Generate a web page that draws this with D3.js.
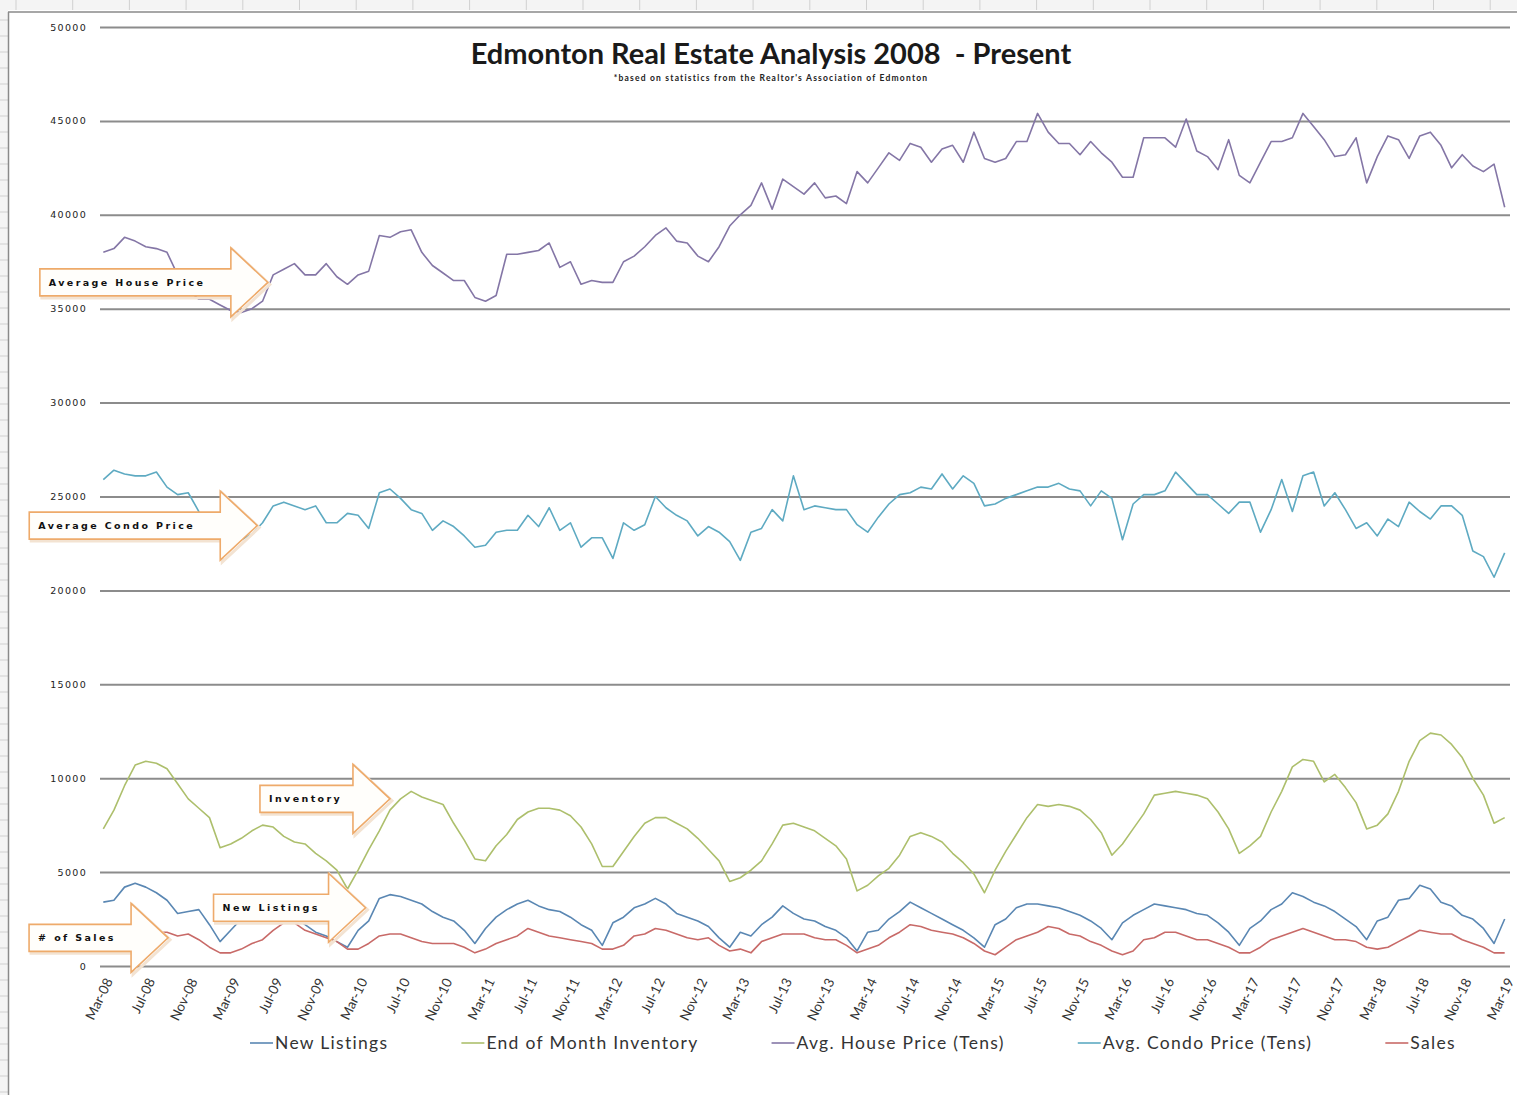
<!DOCTYPE html>
<html>
<head>
<meta charset="utf-8">
<script src="https://cdn.jsdelivr.net/npm/d3@7"></script>
<style>
  body { margin: 0; background: #fff; }
  svg { display: block; }
</style>
</head>
<body>
<script>
// monthly data, Mar-08 .. Mar-19 (133 months)
var tickLabels = ["Mar-08","Jul-08","Nov-08","Mar-09","Jul-09","Nov-09","Mar-10","Jul-10","Nov-10",
  "Mar-11","Jul-11","Nov-11","Mar-12","Jul-12","Nov-12","Mar-13","Jul-13","Nov-13","Mar-14","Jul-14",
  "Nov-14","Mar-15","Jul-15","Nov-15","Mar-16","Jul-16","Nov-16","Mar-17","Jul-17","Nov-17","Mar-18",
  "Jul-18","Nov-18","Mar-19"];

var yTicks = [0, 5000, 10000, 15000, 20000, 25000, 30000, 35000, 40000, 45000, 50000];

var newListings = [
  3400,3500,4200,4400,4200,3900,3500,2800,2900,3000,
  2200,1300,1900,2500,3000,3300,3300,3000,2600,2200,
  1800,1600,1300,1000,1900,2400,3600,3800,3700,3500,
  3300,2900,2600,2400,1900,1200,2000,2600,3000,3300,
  3500,3200,3000,2900,2600,2200,1900,1100,2300,2600,
  3100,3300,3600,3300,2800,2600,2400,2100,1500,1000,
  1800,1600,2200,2600,3200,2800,2500,2400,2100,1900,
  1500,800,1800,1900,2500,2900,3400,3100,2800,2500,
  2200,1900,1500,1000,2200,2500,3100,3300,3300,3200,
  3100,2900,2700,2400,2000,1400,2300,2700,3000,3300,
  3200,3100,3000,2800,2700,2300,1800,1100,2000,2400,
  3000,3300,3900,3700,3400,3200,2900,2500,2100,1400,
  2400,2600,3500,3600,4300,4100,3400,3200,2700,2500,
  2000,1200,2500];

var inventory = [
  7300,8300,9600,10700,10900,10800,10500,9700,8900,8400,
  7900,6300,6500,6800,7200,7500,7400,6900,6600,6500,
  6000,5600,5100,4100,5100,6200,7200,8300,8900,9300,
  9000,8800,8600,7600,6700,5700,5600,6400,7000,7800,
  8200,8400,8400,8300,8000,7400,6500,5300,5300,6100,
  6900,7600,7900,7900,7600,7300,6800,6200,5600,4500,
  4700,5100,5600,6500,7500,7600,7400,7200,6800,6400,
  5700,4000,4300,4800,5200,5900,6900,7100,6900,6600,
  6000,5500,4900,3900,5100,6100,7000,7900,8600,8500,
  8600,8500,8300,7800,7100,5900,6500,7300,8100,9100,
  9200,9300,9200,9100,8900,8200,7300,6000,6400,6900,
  8200,9300,10600,11000,10900,9800,10200,9500,8700,7300,
  7500,8100,9300,10900,12000,12400,12300,11800,11100,10000,
  9100,7600,7900];

var housePrice = [
  38000,38200,38800,38600,38300,38200,38000,36800,36000,35500,
  35500,35200,34900,34800,35000,35400,36800,37100,37400,36800,
  36800,37400,36700,36300,36800,37000,38900,38800,39100,39200,
  38000,37300,36900,36500,36500,35600,35400,35700,37900,37900,
  38000,38100,38500,37200,37500,36300,36500,36400,36400,37500,
  37800,38300,38900,39300,38600,38500,37800,37500,38300,39400,
  40000,40500,41700,40300,41900,41500,41100,41700,40900,41000,
  40600,42300,41700,42500,43300,42900,43800,43600,42800,43500,
  43700,42800,44400,43000,42800,43000,43900,43900,45400,44400,
  43800,43800,43200,43900,43300,42800,42000,42000,44100,44100,
  44100,43600,45100,43400,43100,42400,44000,42100,41700,42800,
  43900,43900,44100,45400,44700,44000,43100,43200,44100,41700,
  43100,44200,44000,43000,44200,44400,43700,42500,43200,42600,
  42300,42700,40400];

var condoPrice = [
  25900,26400,26200,26100,26100,26300,25500,25100,25200,24200,
  23200,22800,22500,22700,23000,23600,24500,24700,24500,24300,
  24500,23600,23600,24100,24000,23300,25200,25400,24900,24300,
  24100,23200,23700,23400,22900,22300,22400,23100,23200,23200,
  24000,23400,24400,23200,23600,22300,22800,22800,21700,23600,
  23200,23500,25000,24400,24000,23700,22900,23400,23100,22600,
  21600,23100,23300,24300,23700,26100,24300,24500,24400,24300,
  24300,23500,23100,23900,24600,25100,25200,25500,25400,26200,
  25400,26100,25700,24500,24600,24900,25100,25300,25500,25500,
  25700,25400,25300,24500,25300,24900,22700,24600,25100,25100,
  25300,26300,25700,25100,25100,24600,24100,24700,24700,23100,
  24300,25900,24200,26100,26300,24500,25200,24300,23300,23600,
  22900,23800,23400,24700,24200,23800,24500,24500,24000,22100,
  21800,20700,22000];

var sales = [
  1500,1700,1800,1800,1700,1800,1800,1600,1700,1400,
  1000,700,700,900,1200,1400,1900,2300,2300,1900,
  1700,1500,1300,900,900,1200,1600,1700,1700,1500,
  1300,1200,1200,1200,1000,700,900,1200,1400,1600,
  2000,1800,1600,1500,1400,1300,1200,900,900,1100,
  1600,1700,2000,1900,1700,1500,1400,1500,1100,800,
  900,700,1300,1500,1700,1700,1700,1500,1400,1400,
  1100,700,900,1100,1500,1800,2200,2100,1900,1800,
  1700,1500,1200,800,600,1000,1400,1600,1800,2100,
  2000,1700,1600,1300,1100,800,600,800,1400,1500,
  1800,1800,1600,1400,1400,1200,1000,700,700,1000,
  1400,1600,1800,2000,1800,1600,1400,1400,1300,1000,
  900,1000,1300,1600,1900,1800,1700,1700,1400,1200,
  1000,700,700];

var seriesNames = ["New Listings", "End of Month Inventory", "Avg. House Price (Tens)", "Avg. Condo Price (Tens)", "Sales"];
var seriesColors = ["#5a87b3", "#adbf6c", "#8476a6", "#5eaac2", "#c86a68"];

// arrow callouts: label, tip month index, tip value
var calloutLabels = ["Average House Price", "Average Condo Price", "Inventory", "New Listings", "# of Sales"];
var calloutIndex = [15.5, 14.5, 27.0, 24.7, 6.1];
var calloutValue = [36400, 23450, 8900, 3100, 1500];
var calloutLength = [228, 228, 130, 152, 139];

var width = 1517, height = 1095;

var svg = d3.select("body").append("svg")
    .attr("width", width)
    .attr("height", height);

// spreadsheet frame around the chart
var frame = svg.append("g");
frame.append("rect").attr("x", 0).attr("y", 0).attr("width", width).attr("height", 10).attr("fill", "#f4f4f4");
frame.append("rect").attr("x", 0).attr("y", 0).attr("width", 8).attr("height", height).attr("fill", "#f4f4f4");
frame.selectAll(".col").data(d3.range(16, width, 56.7)).enter().append("line")
    .attr("x1", function(d) { return d; }).attr("x2", function(d) { return d; })
    .attr("y1", 0).attr("y2", 10).attr("stroke", "#d0d0d0");
frame.selectAll(".row").data(d3.range(20, height, 16)).enter().append("line")
    .attr("x1", 0).attr("x2", 8)
    .attr("y1", function(d) { return d; }).attr("y2", function(d) { return d; })
    .attr("stroke", "#d0d0d0");
frame.append("line").attr("x1", 8).attr("x2", width).attr("y1", 12).attr("y2", 12).attr("stroke", "#8a8a8a").attr("stroke-width", 1.5);
frame.append("line").attr("x1", 8.5).attr("x2", 8.5).attr("y1", 12).attr("y2", height).attr("stroke", "#8a8a8a").attr("stroke-width", 1.5);

// scales
var x = d3.scaleLinear().domain([-0.5, 132.5]).range([98, 1510]);
var y = d3.scaleLinear().domain([0, 50000]).range([966, 27]);

// y axis + gridlines
var yAxis = d3.axisLeft(y)
    .tickValues(yTicks)
    .tickSize(-1410)
    .tickPadding(13)
    .tickFormat(d3.format("d"));

var gy = svg.append("g")
    .attr("class", "y axis")
    .attr("transform", "translate(100,0)")
    .call(yAxis);
gy.select(".domain").remove();
gy.selectAll("line").attr("stroke", "#8c8c8c").attr("stroke-width", 2);
gy.selectAll("text")
    .style("font-family", "'DejaVu Sans', sans-serif")
    .style("font-size", "9.5px")
    .style("letter-spacing", "1.3px")
    .attr("fill", "#222");

// x axis
var xAxis = d3.axisBottom(x)
    .tickValues(d3.range(0, 133, 4))
    .tickSize(0)
    .tickFormat(function(d, i) { return tickLabels[i]; });

var gx = svg.append("g")
    .attr("class", "x axis")
    .attr("transform", "translate(0,966)")
    .call(xAxis);
gx.select(".domain").remove();
gx.selectAll("text")
    .attr("y", 0)
    .attr("dy", "0.35em")
    .attr("transform", "translate(5,13) rotate(-64)")
    .style("text-anchor", "end")
    .style("font-family", "Lato, sans-serif")
    .style("font-size", "13.5px")
    .attr("fill", "#333");

// lines
var series = [newListings, inventory, housePrice, condoPrice, sales];
var line = d3.line()
    .x(function(d, i) { return x(i); })
    .y(function(d) { return y(d); });

svg.selectAll(".series")
   .data(series)
   .enter().append("path")
   .attr("class", "series")
   .attr("d", line)
   .attr("fill", "none")
   .attr("stroke", function(d, i) { return seriesColors[i]; })
   .attr("stroke-width", 1.6)
   .attr("stroke-linejoin", "round");

// block-arrow callouts
function arrowPath(tx, ty, len) {
  var headLen = 37, shaftH = 13.5, headH = 34.5;
  return "M" + (tx - len) + "," + (ty - shaftH) +
         "L" + (tx - headLen) + "," + (ty - shaftH) +
         "L" + (tx - headLen) + "," + (ty - headH) +
         "L" + tx + "," + ty +
         "L" + (tx - headLen) + "," + (ty + headH) +
         "L" + (tx - headLen) + "," + (ty + shaftH) +
         "L" + (tx - len) + "," + (ty + shaftH) + "Z";
}

var callouts = svg.selectAll(".callout")
   .data(calloutLabels)
   .enter().append("g")
   .attr("class", "callout");

callouts.append("path")
   .attr("d", function(d, i) { return arrowPath(x(calloutIndex[i]) + 2, y(calloutValue[i]) + 2, calloutLength[i]); })
   .attr("fill", "none")
   .attr("stroke", "#f3e3d2")
   .attr("stroke-width", 3);

callouts.append("path")
   .attr("d", function(d, i) { return arrowPath(x(calloutIndex[i]), y(calloutValue[i]), calloutLength[i]); })
   .attr("fill", "#fffefb")
   .attr("stroke", "#eeaa6a")
   .attr("stroke-width", 1.6);

callouts.append("text")
   .attr("x", function(d, i) { return x(calloutIndex[i]) - calloutLength[i] + 9; })
   .attr("y", function(d, i) { return y(calloutValue[i]); })
   .attr("dy", "0.35em")
   .style("font-family", "'DejaVu Sans', sans-serif")
   .style("font-weight", "bold")
   .style("font-size", "9.5px")
   .style("letter-spacing", "2.4px")
   .attr("fill", "#111")
   .text(function(d) { return d; });

// title
svg.append("text")
   .attr("x", 771)
   .attr("y", 64)
   .style("text-anchor", "middle")
   .style("font-family", "Lato, sans-serif")
   .style("font-weight", "bold")
   .style("font-size", "29px")
   .style("white-space", "pre")
   .attr("fill", "#1a1a1a")
   .text("Edmonton Real Estate Analysis 2008  - Present");

svg.append("text")
   .attr("x", 771)
   .attr("y", 81)
   .style("text-anchor", "middle")
   .style("font-family", "Lato, sans-serif")
   .style("font-weight", "bold")
   .style("font-size", "8.5px")
   .style("letter-spacing", "1.2px")
   .attr("fill", "#222")
   .text("*based on statistics from the Realtor's Association of Edmonton");

// legend
var legend = svg.append("g").attr("class", "legend");
var lx = 250;
seriesNames.forEach(function(name, i) {
  var item = legend.append("g").attr("transform", "translate(" + lx + ",1043)");
  item.append("line")
      .attr("x1", 0).attr("x2", 23)
      .attr("y1", 0).attr("y2", 0)
      .attr("stroke", seriesColors[i])
      .attr("stroke-width", 1.6);
  var t = item.append("text")
      .attr("x", 25)
      .attr("dy", "0.35em")
      .style("font-family", "Lato, sans-serif")
      .style("font-size", "17.5px")
      .style("letter-spacing", "1.3px")
      .attr("fill", "#333")
      .text(name);
  lx += 25 + t.node().getComputedTextLength() + 73;
});
</script>
</body>
</html>
